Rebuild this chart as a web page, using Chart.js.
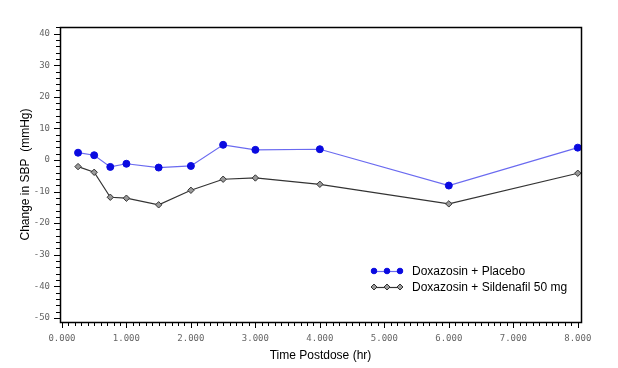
<!DOCTYPE html>
<html>
<head>
<meta charset="utf-8">
<script src="https://cdn.jsdelivr.net/npm/chart.js@4/dist/chart.umd.min.js"></script>
<style>
  html, body { margin: 0; padding: 0; background: #fff; }
  #wrap { position: relative; width: 618px; height: 368px; }
</style>
</head>
<body>
<div id="wrap"><canvas id="c" width="618" height="368"></canvas></div>
<script>
// ---- data ----
const times = [0.25, 0.5, 0.75, 1, 1.5, 2, 2.5, 3, 4, 6, 8];
const placebo = [2.3, 1.5, -2.2, -1.2, -2.4, -1.9, 4.8, 3.2, 3.4, -8.1, 3.9];
const sildenafil = [-2.1, -3.9, -11.8, -12.1, -14.2, -9.6, -6.1, -5.7, -7.7, -13.9, -4.2];
const seriesLabels = ['Doxazosin + Placebo', 'Doxazosin + Sildenafil 50 mg'];
const xMajorTicks = [0, 1, 2, 3, 4, 5, 6, 7, 8];
const yMajorTicks = [40, 30, 20, 10, 0, -10, -20, -30, -40, -50];

const toPoints = (vals) => times.map((t, i) => ({ x: t, y: vals[i] }));

// frame + tick marks + in-plot legend
const decor = {
  id: 'decor',
  afterDraw(chart) {
    const ctx = chart.ctx;
    const a = chart.chartArea;
    ctx.save();
    ctx.strokeStyle = '#000';
    ctx.lineWidth = 1.5;
    ctx.strokeRect(Math.round(a.left) + 0.5, Math.round(a.top) + 0.5, Math.round(a.right - a.left), Math.round(a.bottom - a.top));
    // tick marks
    ctx.lineWidth = 1;
    const xs = chart.scales.x, ys = chart.scales.y;
    xs.ticks.forEach(t => {
      const px = Math.round(xs.getPixelForValue(t.value)) + 0.5;
      const major = xMajorTicks.includes(Math.round(t.value * 10) / 10);
      ctx.beginPath();
      ctx.moveTo(px, a.bottom);
      ctx.lineTo(px, a.bottom + (major ? 6 : 4));
      ctx.stroke();
    });
    ys.ticks.forEach(t => {
      const py = Math.round(ys.getPixelForValue(t.value)) + 0.5;
      const major = yMajorTicks.includes(t.value);
      ctx.beginPath();
      ctx.moveTo(a.left, py);
      ctx.lineTo(a.left - (major ? 6 : 4), py);
      ctx.stroke();
    });
    // legend
    const lx = 372, ly = [271, 287];
    chart.data.datasets.forEach((ds, i) => {
      const y = ly[i];
      ctx.strokeStyle = ds.borderColor;
      ctx.lineWidth = 1.2;
      ctx.beginPath();
      ctx.moveTo(lx, y + 0.5);
      ctx.lineTo(lx + 30, y + 0.5);
      ctx.stroke();
      [lx + 2, lx + 15, lx + 28].forEach(mx => {
        ctx.fillStyle = ds.pointBackgroundColor;
        ctx.strokeStyle = ds.pointBorderColor;
        ctx.lineWidth = 1;
        ctx.beginPath();
        if (ds.pointStyle === 'rectRot') {
          const r = 3;
          ctx.moveTo(mx, y - r); ctx.lineTo(mx + r, y); ctx.lineTo(mx, y + r); ctx.lineTo(mx - r, y); ctx.closePath();
        } else {
          ctx.arc(mx, y, 2.8, 0, Math.PI * 2);
        }
        ctx.fill();
        ctx.stroke();
      });
      ctx.fillStyle = '#000';
      ctx.font = '12px "Liberation Sans", Arial, sans-serif';
      ctx.textBaseline = 'middle';
      ctx.textAlign = 'left';
      ctx.fillText(ds.label, lx + 40, y + 0.5);
    });
    ctx.restore();
  }
};

new Chart(document.getElementById('c'), {
  type: 'line',
  data: {
    datasets: [
      {
        label: seriesLabels[0],
        data: toPoints(placebo),
        borderColor: '#6a6af0',
        borderWidth: 1.2,
        pointStyle: 'circle',
        pointRadius: 3.5,
        pointBackgroundColor: '#0a0ae0',
        pointBorderColor: '#0a0ae0',
        pointBorderWidth: 1,
        tension: 0
      },
      {
        label: seriesLabels[1],
        data: toPoints(sildenafil),
        borderColor: '#333333',
        borderWidth: 1.2,
        pointStyle: 'rectRot',
        pointRadius: 3.2,
        pointBackgroundColor: '#9a9a9a',
        pointBorderColor: '#333333',
        pointBorderWidth: 1,
        tension: 0
      }
    ]
  },
  options: {
    responsive: false,
    animation: false,
    layout: { padding: { left: 0, top: 27, right: 37, bottom: 0 } },
    plugins: { legend: { display: false }, tooltip: { enabled: false } },
    scales: {
      x: {
        type: 'linear',
        min: -0.03,
        max: 8.05,
        afterBuildTicks(scale) {
          const t = [];
          for (let i = 0; i <= 80; i++) t.push({ value: i / 10 });
          scale.ticks = t;
        },
        afterFit(scale) { scale.height = 46; },
        grid: { display: false, drawTicks: false },
        border: { display: false },
        ticks: {
          autoSkip: false,
          maxRotation: 0,
          padding: 11,
          color: '#666',
          font: { family: '"DejaVu Sans Mono", monospace', size: 9 },
          callback(v) {
            const r = Math.round(v * 10) / 10;
            return xMajorTicks.includes(r) ? r.toFixed(3) : '';
          }
        },
        title: {
          display: true,
          text: 'Time Postdose (hr)',
          color: '#000',
          font: { family: '"Liberation Sans", Arial, sans-serif', size: 12 },
          padding: { top: 0, bottom: 5 }
        }
      },
      y: {
        type: 'linear',
        min: -51.3,
        max: 42.1,
        afterBuildTicks(scale) {
          const t = [];
          for (let v = -50; v <= 42; v += 2) t.push({ value: v });
          scale.ticks = t;
        },
        afterFit(scale) { scale.width = 60; },
        grid: { display: false, drawTicks: false },
        border: { display: false },
        ticks: {
          autoSkip: false,
          padding: 10,
          color: '#666',
          font: { family: '"DejaVu Sans Mono", monospace', size: 9 },
          callback(v) { return yMajorTicks.includes(v) ? String(v) : ''; }
        },
        title: {
          display: true,
          text: 'Change in SBP  (mmHg)',
          color: '#000',
          font: { family: '"Liberation Sans", Arial, sans-serif', size: 12 },
          padding: { top: 18, bottom: 0 }
        }
      }
    }
  },
  plugins: [decor]
});
</script>
</body>
</html>
